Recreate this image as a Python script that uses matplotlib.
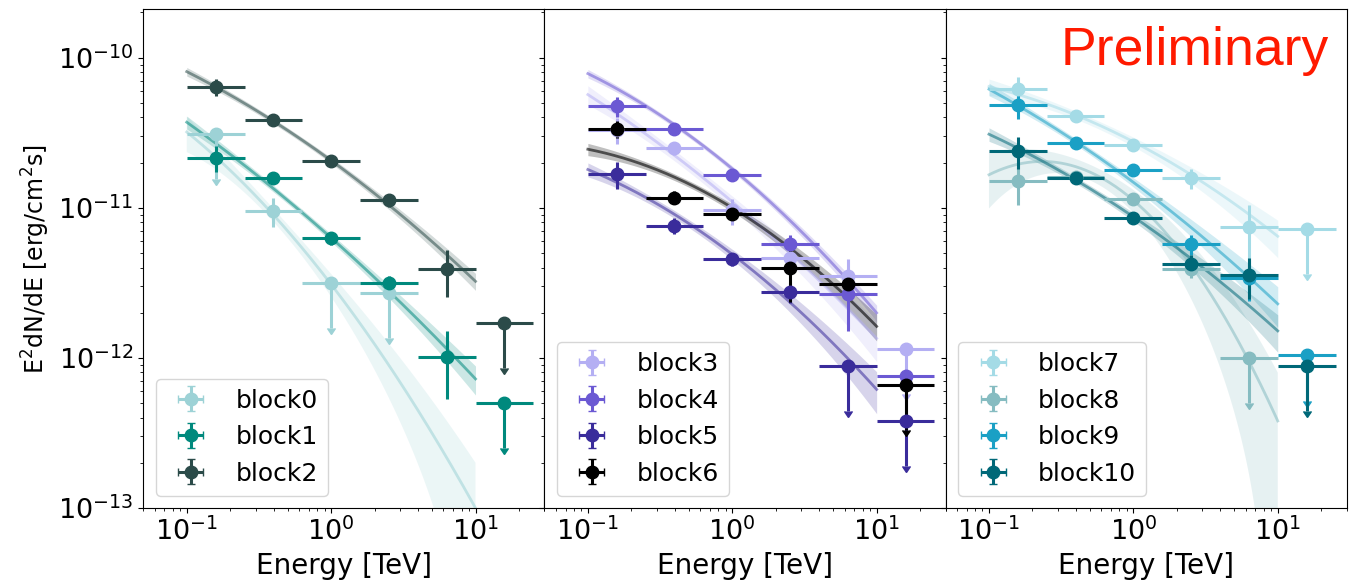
import numpy as np
import matplotlib
matplotlib.use("Agg")
import matplotlib.pyplot as plt

# ---------------- data ----------------
bin_edges = [0.1, 0.2512, 0.631, 1.585, 3.981, 10.0, 25.12]
bin_centers = [0.1585, 0.398, 1.0, 2.512, 6.31, 15.85]

block_names = ["block0", "block1", "block2", "block3", "block4", "block5",
               "block6", "block7", "block8", "block9", "block10"]
block_panel = [0, 0, 0, 1, 1, 1, 1, 2, 2, 2, 2]
block_colors = ["#9dd2d6", "#00897d", "#2b4b49",
                "#b4aff3", "#6b59d3", "#3a2c9b", "#000000",
                "#a4dbe6", "#86bcc1", "#1aa0c5", "#006878"]

# number of energy bins with a point for each block
block_nbins = [4, 6, 6, 6, 6, 6, 6, 6, 5, 6, 6]

flux = [
    [3.1e-11, 9.5e-12, 3.14e-12, 2.7e-12],
    [2.15e-11, 1.58e-11, 6.3e-12, 3.15e-12, 1.02e-12, 5.0e-13],
    [6.4e-11, 3.85e-11, 2.05e-11, 1.13e-11, 3.9e-12, 1.72e-12],
    [3.3e-11, 2.5e-11, 9.6e-12, 4.6e-12, 3.5e-12, 1.15e-12],
    [4.75e-11, 3.35e-11, 1.65e-11, 5.7e-12, 2.65e-12, 7.6e-13],
    [1.67e-11, 7.6e-12, 4.55e-12, 2.75e-12, 8.8e-13, 3.8e-13],
    [3.35e-11, 1.17e-11, 9.1e-12, 3.95e-12, 3.1e-12, 6.6e-13],
    [6.2e-11, 4.1e-11, 2.6e-11, 1.57e-11, 7.4e-12, 7.2e-12],
    [1.5e-11, 1.6e-11, 1.15e-11, 3.9e-12, 1.0e-12],
    [4.85e-11, 2.7e-11, 1.78e-11, 5.7e-12, 3.4e-12, 1.04e-12],
    [2.4e-11, 1.59e-11, 8.6e-12, 4.2e-12, 3.55e-12, 8.9e-13],
]
# relative flux error (fraction of flux)
flux_relerr = [
    [0.5, 0.22, 0.5, 0.5],
    [0.2, 0.08, 0.1, 0.12, 0.48, 0.5],
    [0.13, 0.06, 0.06, 0.1, 0.35, 0.5],
    [0.2, 0.1, 0.2, 0.1, 0.3, 0.5],
    [0.15, 0.06, 0.06, 0.15, 0.43, 0.5],
    [0.2, 0.12, 0.1, 0.15, 0.5, 0.5],
    [0.13, 0.1, 0.08, 0.4, 0.22, 0.5],
    [0.2, 0.08, 0.06, 0.15, 0.4, 0.5],
    [0.3, 0.08, 0.08, 0.12, 0.5],
    [0.2, 0.06, 0.06, 0.15, 0.3, 0.5],
    [0.24, 0.06, 0.08, 0.15, 0.3, 0.5],
]
upper_limit = [
    [1, 0, 1, 1],
    [0, 0, 0, 0, 0, 1],
    [0, 0, 0, 0, 0, 1],
    [0, 0, 0, 0, 0, 1],
    [0, 0, 0, 0, 0, 1],
    [0, 0, 0, 0, 1, 1],
    [0, 0, 0, 0, 0, 1],
    [0, 0, 0, 0, 0, 1],
    [0, 0, 0, 0, 1],
    [0, 0, 0, 0, 0, 1],
    [0, 0, 0, 0, 0, 1],
]

# log-parabola fit: log10(F) = a + b*log10(E) + c*log10(E)^2  (E in TeV)
fit_a = [-11.51, -11.20, -10.685, -10.96, -10.74, -11.31, -11.00, -10.56, -10.95, -10.83, -11.06]
fit_b = [-1.2525, -0.855, -0.6985, -0.812, -0.797, -0.7325, -0.59, -0.4985, -0.82, -0.715, -0.655]
fit_c = [-0.2375, -0.085, -0.1065, -0.098, -0.163, -0.1675, -0.20, -0.1315, -0.65, -0.095, -0.105]
# relative width of the fit band: r = r0 + r1*(log10 E - l0)^2
band_r0 = [0.10, 0.05, 0.04, 0.08, 0.04, 0.06, 0.05, 0.06, 0.12, 0.05, 0.05]
band_r1 = [0.46, 0.10, 0.053, 0.13, 0.05, 0.128, 0.089, 0.13, 0.58, 0.128, 0.126]
band_l0 = [-0.4, -0.3, -0.3, -0.3, -0.3, -0.4, -0.3, -0.3, -0.3, -0.4, -0.35]
fit_range = [0.1, 10.0]

y_major_ticks = [1e-13, 1e-12, 1e-11, 1e-10]

# ---------------- figure ----------------
plt.rcParams["font.family"] = ["DejaVu Sans"]
fig, axes = plt.subplots(1, 3, sharey=True, figsize=(13.53, 5.81), dpi=100)
fig.subplots_adjust(left=0.1059, right=0.9953, bottom=0.1256, top=0.984, wspace=0)

egrid = np.logspace(np.log10(fit_range[0]), np.log10(fit_range[1]), 300)
lg = np.log10(egrid)

for i in range(len(block_names)):
    ax = axes[block_panel[i]]
    col = block_colors[i]
    logf = fit_a[i] + fit_b[i] * lg + fit_c[i] * lg ** 2
    f = 10 ** logf
    r = band_r0[i] + band_r1[i] * (lg - band_l0[i]) ** 2
    lo = f * np.clip(1 - r, 1e-4, None)
    hi = f * (1 + r)
    band_alpha = 0.25 if col == "#000000" else 0.2
    line_alpha = 0.6 if col == "#000000" else 0.55
    ax.fill_between(egrid, lo, hi, color=col, alpha=band_alpha, lw=0, zorder=1)
    ax.plot(egrid, f, color=col, alpha=line_alpha, lw=2, zorder=1.5)

for i in range(len(block_names)):
    ax = axes[block_panel[i]]
    col = block_colors[i]
    n = block_nbins[i]
    E = np.array(bin_centers[:n])
    lo_e = np.array(bin_edges[:n])
    hi_e = np.array(bin_edges[1:n + 1])
    F = np.array(flux[i])
    err = np.array(flux_relerr[i]) * F
    ul = np.array(upper_limit[i], dtype=bool)
    ax.errorbar(E, F, xerr=[E - lo_e, hi_e - E], yerr=err, uplims=ul,
                fmt="o", color=col, ms=9, elinewidth=2.2, label=block_names[i],
                zorder=3)

for k, ax in enumerate(axes):
    ax.set_xscale("log")
    ax.set_yscale("log")
    ax.set_xlim(0.05, 30)
    ax.set_ylim(1e-13, 2.1e-10)
    ax.set_yticks(y_major_ticks)
    ax.set_xlabel("Energy [TeV]", fontsize=20)
    ax.tick_params(labelsize=19.5)
    ax.legend(loc="lower left", fontsize=18)

axes[0].set_ylabel(r"E$^2$dN/dE [erg/cm$^2$s]", fontsize=17)

axes[2].text(0.955, 0.888, "Preliminary", transform=axes[2].transAxes,
             ha="right", va="baseline", color="#ff1a00",
             fontsize=38.5, family=["Liberation Sans", "DejaVu Sans"])

fig.savefig("out.png", dpi=100)
